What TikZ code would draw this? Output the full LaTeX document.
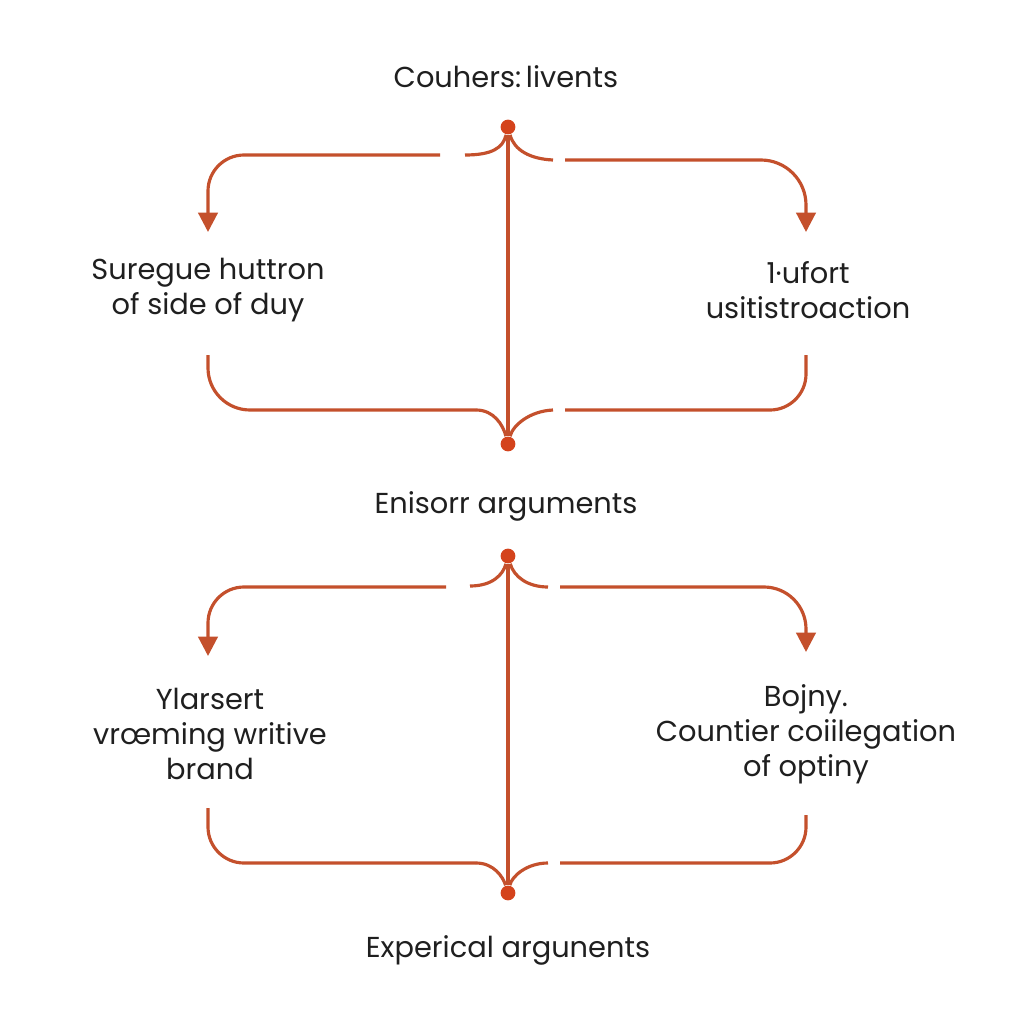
\documentclass[tikz,border=0pt]{standalone}
\usepackage{fontspec}
\setmainfont{Poppins}
\usetikzlibrary{arrows.meta}
\definecolor{rust}{HTML}{C4502C}
\definecolor{dotred}{HTML}{D4431C}

\begin{document}
\begin{tikzpicture}[x=0.01cm,y=-0.01cm,
  wire/.style={rust, line width=0.9pt},
  tip/.style={-{Triangle[length=5.5pt,width=5.5pt]}},
  hub/.style={circle, fill=dotred, inner sep=0pt, minimum size=4.2pt},
  lbl/.style={align=center, font=\fontsize{8.2}{9.9}\selectfont, text=black!88}]
\useasboundingbox (0,0) rectangle (1024,1024);
\fill[white] (0,0) rectangle (1024,1024);

% upper part
\node[lbl] (title) at (506,77) {Couhers:\,livents};
\node[hub] (t1) at (508,127) {};
\node[hub] (b1) at (508,444) {};
\node[lbl] (l1) at (208,290) {Suregue huttron\\of side of duy};
\node[lbl] (r1) at (808,290) {1·ufort\\usitistroaction};
\coordinate (t1L) at (465,155);
\coordinate (t1Lg) at (440,155);
\coordinate (t1R) at (553,160);
\coordinate (t1Rg) at (565,160);
\coordinate (a1L) at (208,232);
\coordinate (a1R) at (806,232);
\coordinate (s1L) at (208,355);
\coordinate (s1R) at (806,355);
\coordinate (b1L) at (476,410);
\coordinate (b1R) at (553,410);
\coordinate (b1Rg) at (565,410);

\draw[wire] (t1) -- (b1);
\draw[wire] (t1) .. controls (503,148) and (492,155) .. (t1L);
\draw[wire, tip, rounded corners=0.36cm] (t1Lg) -- (208,155) -- (a1L);
\draw[wire] (t1) .. controls (514,150) and (530,159) .. (t1R);
\draw[wire, tip, rounded corners=0.45cm] (t1Rg) -- (806,160) -- (a1R);
\draw[wire, rounded corners=0.42cm] (s1L) -- (208,410) -- (b1L);
\draw[wire] (b1L) .. controls (494,410) and (503,425) .. (b1);
\draw[wire] (b1) .. controls (513,425) and (530,411) .. (b1R);
\draw[wire, rounded corners=0.36cm] (b1Rg) -- (806,410) -- (s1R);

% lower part
\node[lbl] (mid) at (506,506) {Enisorr arguments};
\node[hub] (t2) at (508,556) {};
\node[hub] (b2) at (508,893) {};
\node[lbl] (l2) at (210,734) {Ylarsert\\vrœming writive\\brand};
\node[lbl] (r2) at (806,734) {Bojny.\\Countier coiilegation\\of optiny};
\node[lbl] (foot) at (508,950) {Experical argunents};
\coordinate (t2L) at (470,586);
\coordinate (t2Lg) at (446,587);
\coordinate (t2R) at (548,587);
\coordinate (t2Rg) at (560,587);
\coordinate (a2L) at (208,656);
\coordinate (a2R) at (806,652);
\coordinate (s2L) at (208,808);
\coordinate (s2R) at (806,815);
\coordinate (b2L) at (476,863);
\coordinate (b2R) at (548,863);
\coordinate (b2Rg) at (560,863);

\draw[wire] (t2) -- (b2);
\draw[wire] (t2) .. controls (503,575) and (492,586) .. (t2L);
\draw[wire, tip, rounded corners=0.36cm] (t2Lg) -- (208,587) -- (a2L);
\draw[wire] (t2) .. controls (514,577) and (528,587) .. (t2R);
\draw[wire, tip, rounded corners=0.42cm] (t2Rg) -- (806,587) -- (a2R);
\draw[wire, rounded corners=0.36cm] (s2L) -- (208,863) -- (b2L);
\draw[wire] (b2L) .. controls (494,863) and (503,877) .. (b2);
\draw[wire] (b2) .. controls (512,876) and (527,863) .. (b2R);
\draw[wire, rounded corners=0.36cm] (b2Rg) -- (806,863) -- (s2R);
\end{tikzpicture}
\end{document}
